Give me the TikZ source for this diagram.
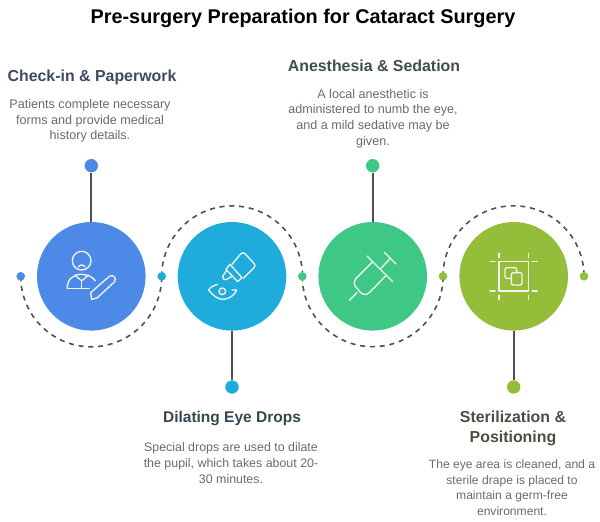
\documentclass[tikz,border=0pt]{standalone}
\usepackage{fontspec}
\setmainfont{Liberation Sans}
\usetikzlibrary{backgrounds}
\definecolor{cblue}{HTML}{4D89E6}
\definecolor{cteal}{HTML}{1FABDB}
\definecolor{cgreen}{HTML}{3EC785}
\definecolor{colive}{HTML}{94BD3A}
\definecolor{cline}{HTML}{505050}
\definecolor{hone}{HTML}{3F4A5F}
\definecolor{htwo}{HTML}{36474F}
\definecolor{hthree}{HTML}{3F4F4A}
\definecolor{hfour}{HTML}{4A4F40}
\definecolor{btext}{HTML}{666B70}
\tikzset{
  big/.style={circle,fill=#1,minimum size=108.6pt,inner sep=0pt},
  mid/.style={circle,fill=#1,minimum size=13.4pt,inner sep=0pt},
  tiny/.style={circle,fill=#1,minimum size=8.6pt,inner sep=0pt},
  stem/.style={draw=cline,line width=1.8pt},
  wave/.style={draw=cline,line width=1.6pt,dash pattern=on 5pt off 4.8pt},
  icon/.style={draw=white!95!black,line width=1.35pt,line cap=round,line join=round,x=.3333pt,y=-.3333pt},
  ttl/.style={font=\fontsize{19.85}{24}\selectfont\bfseries,text=black},
  head/.style={font=\fontsize{15.9}{20.5}\selectfont\bfseries,align=center,text=#1},
  headsmall/.style={font=\fontsize{15.5}{20.5}\selectfont\bfseries,align=center,text=#1},
  body/.style={font=\fontsize{12.6}{15.6}\selectfont,align=center,text=btext},
  bodysmall/.style={font=\fontsize{#1}{15.6}\selectfont,align=center,text=btext}
}
\begin{document}
\begin{tikzpicture}[x=1pt,y=-1pt]
\useasboundingbox (0,0) rectangle (600,522);
\node[ttl] (title) at (303,18) {Pre-surgery Preparation for Cataract Surgery};
% big circles
\node[big=cblue]  (c1) at (91.3,276.3) {};
\node[big=cteal]  (c2) at (232,276.3) {};
\node[big=cgreen] (c3) at (372.7,276.3) {};
\node[big=colive] (c4) at (513.7,276.3) {};
% small dots on the wave
\node[tiny=cblue]  (d1) at (20.7,276.3) {};
\node[tiny=cteal]  (d2) at (161.7,276.3) {};
\node[tiny=cgreen] (d3) at (302.3,276.3) {};
\node[tiny=colive] (d4) at (443,276.3) {};
\node[tiny=colive] (d5) at (584,276.3) {};
% stem dots
\node[mid=cblue]  (t1) at (91.3,165.7) {};
\node[mid=cteal]  (t2) at (232,387) {};
\node[mid=cgreen] (t3) at (372.7,165.7) {};
\node[mid=colive] (t4) at (513.7,387) {};
\begin{scope}[on background layer]
  \draw[stem] (t1) -- (c1);
  \draw[stem] (t2) -- (c2);
  \draw[stem] (t3) -- (c3);
  \draw[stem] (t4) -- (c4);
  \draw[wave] (d1) arc[start angle=180,end angle=360,radius=70.5pt];
  \draw[wave] (d2) arc[start angle=180,end angle=0,radius=70.4pt];
  \draw[wave] (d3) arc[start angle=180,end angle=360,radius=70.4pt];
  \draw[wave] (d4) arc[start angle=180,end angle=0,radius=70.5pt];
\end{scope}
% icon 1: person and pencil
\begin{scope}[shift={(60,245)},icon]
  \draw (65,47) circle[radius=28];
  \draw (55,66) .. controls (59,58) and (71,58) .. (75,66);
  \draw (22,130) -- (88,130);
  \draw (22,130) .. controls (20,105) and (40,88) .. (62,88) .. controls (80,88) and (95,93) .. (106,107);
  \draw (45,90) -- (65,108) -- (85,90);
  \draw (65,108) -- (65,130);
  \draw (95,163) -- (92,143) -- (148,94) .. controls (158,86) and (172,100) .. (163,111) -- (111,159) -- cycle;
\end{scope}
% icon 2: eye drops
\begin{scope}[shift={(200,245)},icon]
  \draw (96,58) -- (122,27) .. controls (127,22) and (132,22) .. (136,27) -- (162,55) .. controls (166,60) and (166,64) .. (162,68) -- (130,100);
  \draw (90,58) -- (126,98) -- (113,110) -- (78,73) -- cycle;
  \draw (80,76) -- (68,94) .. controls (66,101) and (72,105) .. (78,104) -- (98,93);
  \draw (52,118) .. controls (40,122) and (30,127) .. (26,135) .. controls (38,152) and (55,164) .. (70,163) .. controls (90,162) and (105,148) .. (110,135) -- (96,135);
  \draw (67,139) circle[radius=10];
\end{scope}
% icon 3: syringe
\begin{scope}[shift={(341,245)},icon]
  \draw (25,166) -- (48,143);
  \draw (78,33) -- (155,110);
  \draw (130,22) -- (165,57);
  \draw (118,72) -- (148,40);
  \draw (95,50) -- (47,98) .. controls (38,107) and (38,118) .. (44,125) -- (58,142) .. controls (66,150) and (76,151) .. (85,143) -- (134,93);
\end{scope}
% icon 4: sterile field
\begin{scope}[shift={(482,245)},icon]
  \draw[line width=1.6pt] (51,50) rectangle (139,138);
  \foreach \x in {51,139} {\draw (\x,25) -- (\x,38); \draw (\x,151) -- (\x,164);}
  \foreach \y in {50,138} {\draw (24,\y) -- (39,\y); \draw (151,\y) -- (166,\y);}
  \draw[rounded corners=2pt] (88,100) -- (69,100) -- (69,68) -- (104,68) -- (104,83);
  \draw[rounded corners=2pt] (88,83) rectangle (120,120);
\end{scope}
% texts
\node[head=hone] (h1) at (92,77) {Check-in \& Paperwork};
\node[body] (b1) at (90,121) {Patients complete necessary\\forms and provide medical\\history details.};
\node[head=hthree] (h3) at (374,65.5) {Anesthesia \& Sedation};
\node[body] (b3) at (373,118.5) {A local anesthetic is\\administered to numb the eye,\\and a mild sedative may be\\given.};
\node[headsmall=htwo] (h2) at (232,418.5) {Dilating Eye Drops};
\node[bodysmall=12.4] (b2) at (231,463) {Special drops are used to dilate\\the pupil, which takes about 20-\\30 minutes.};
\node[head=hfour] (h4) at (513,428.5) {Sterilization \&\\Positioning};
\node[bodysmall=12.1] (b4) at (512,487.5) {The eye area is cleaned, and a\\sterile drape is placed to\\maintain a germ-free\\environment.};
\end{tikzpicture}
\end{document}
